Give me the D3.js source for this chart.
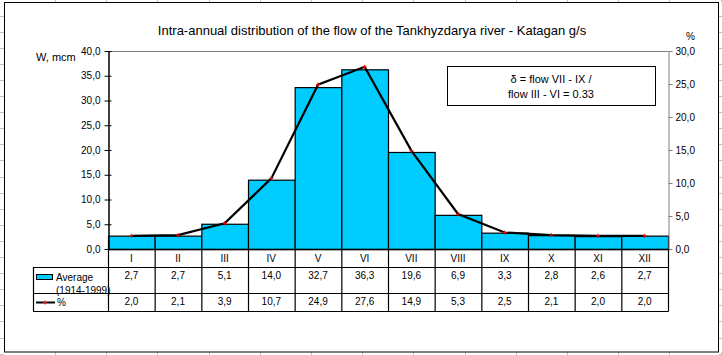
<!DOCTYPE html>
<html><head><meta charset="utf-8">
<script src="https://cdn.jsdelivr.net/npm/d3@7"></script>
<style>html,body{margin:0;padding:0;background:#fff;}svg{display:block;}text{font-family:"Liberation Sans",Arial,sans-serif;fill:#000;}</style>
</head><body>
<script>
const months = ["I","II","III","IV","V","VI","VII","VIII","IX","X","XI","XII"];
const average = [2.7,2.7,5.1,14.0,32.7,36.3,19.6,6.9,3.3,2.8,2.6,2.7];
const percent = [2.0,2.1,3.9,10.7,24.9,27.6,14.9,5.3,2.5,2.1,2.0,2.0];
const leftTicks = [0,5,10,15,20,25,30,35,40];
const rightTicks = [0,5,10,15,20,25,30];
const title = "Intra-annual distribution of the flow of the Tankhyzdarya river - Katagan g/s";
const noteLines = ["δ = flow VII - IX /","flow III - VI = 0.33"];

const W=722,H=355;
const svg=d3.select("body").append("svg").attr("width",W).attr("height",H);
const fmt=v=>v.toFixed(1).replace(".",",");

// spreadsheet grid fragments outside chart
const g0=svg.append("g").attr("stroke","#c0c0c0").attr("stroke-width",1);
d3.range(15.5,355,16.1).forEach(y=>{
  g0.append("line").attr("x1",0).attr("x2",4).attr("y1",Math.round(y)+0.5).attr("y2",Math.round(y)+0.5);
  g0.append("line").attr("x1",719).attr("x2",722).attr("y1",Math.round(y)+0.5).attr("y2",Math.round(y)+0.5);
});
d3.range(55,722,51.2).forEach(x=>{
  g0.append("line").attr("y1",0).attr("y2",2).attr("x1",Math.round(x)+0.5).attr("x2",Math.round(x)+0.5);
  g0.append("line").attr("y1",352).attr("y2",355).attr("x1",Math.round(x)+0.5).attr("x2",Math.round(x)+0.5);
});
// chart border
svg.append("rect").attr("x",4.5).attr("y",2.5).attr("width",714).attr("height",349.5)
  .attr("fill","#fff").attr("stroke","#000");

const x0=108,x1=668,yTop=51,yBot=249;
const x=d3.scaleBand().domain(months).range([x0,x1]).padding(0);
const yL=d3.scaleLinear().domain([0,40]).range([yBot,yTop]);
const yR=d3.scaleLinear().domain([0,30]).range([yBot,yTop]);

// title
svg.append("text").attr("x",372).attr("y",35).attr("text-anchor","middle").attr("font-size",13).text(title);

// plot frame top and right (gray)
svg.append("line").attr("x1",x0).attr("x2",x1).attr("y1",yTop+0.5).attr("y2",yTop+0.5).attr("stroke","#808080");

// bars
svg.append("g").selectAll("rect").data(months).join("rect")
  .attr("x",d=>x(d)+0.5).attr("width",x.bandwidth())
  .attr("y",(d,i)=>yL(average[i])+0.5).attr("height",(d,i)=>yBot-yL(average[i]))
  .attr("fill","#00CCFF").attr("stroke","#000").attr("stroke-width",1.2);

// left axis
const ax=svg.append("g").attr("transform",`translate(${x0+0.5},0)`)
  .call(d3.axisLeft(yL).tickValues(leftTicks).tickFormat(fmt).tickSize(4).tickSizeOuter(0));
ax.select(".domain").attr("stroke","#000").attr("stroke-width",1.5);
ax.selectAll(".tick line").attr("x2",3).attr("x1",-4);
ax.selectAll(".tick text").attr("font-size",10).attr("font-family","Liberation Sans, Arial, sans-serif").attr("x",-8);
svg.append("text").attr("x",36).attr("y",61).attr("font-size",11).text("W, mcm");

// right axis
const ar=svg.append("g").attr("transform",`translate(${x1+0.5},0)`)
  .call(d3.axisRight(yR).tickValues(rightTicks).tickFormat(fmt).tickSize(4).tickSizeOuter(0));
ar.select(".domain").attr("stroke","#808080");
ar.selectAll(".tick line").attr("stroke","#808080");
ar.selectAll(".tick text").attr("font-size",10).attr("font-family","Liberation Sans, Arial, sans-serif").attr("x",7);
svg.append("text").attr("x",686).attr("y",40).attr("font-size",10).text("%");

// x axis line
svg.append("line").attr("x1",x0).attr("x2",x1).attr("y1",yBot+0.5).attr("y2",yBot+0.5).attr("stroke","#000").attr("stroke-width",1.5);

// line series
const cx=d=>x(d)+x.bandwidth()/2;
const line=d3.line().x((d,i)=>cx(months[i])).y(d=>yR(d));
svg.append("path").datum(percent).attr("d",line).attr("fill","none").attr("stroke","#000").attr("stroke-width",2.2);
const mk=svg.append("g").attr("stroke","#ff0000").attr("stroke-width",1);
percent.forEach((v,i)=>{
  const px=cx(months[i]),py=yR(v);
  mk.append("line").attr("x1",px-2).attr("x2",px+2).attr("y1",py).attr("y2",py);
  mk.append("line").attr("x1",px).attr("x2",px).attr("y1",py-2).attr("y2",py+2);
});

// note box
svg.append("rect").attr("x",447.5).attr("y",66.5).attr("width",208).attr("height",39).attr("fill","#fff").attr("stroke","#000");
noteLines.forEach((t,i)=>svg.append("text").attr("x",551).attr("y",83+i*15).attr("text-anchor","middle").attr("font-size",11).text(t));

// data table
const r1=267,r2=293,r3=311,lx=33;
const tg=svg.append("g").attr("stroke","#000").attr("stroke-width",1.2);
[r1,r2,r3].forEach(y=>tg.append("line").attr("x1",lx).attr("x2",x1+0.5).attr("y1",y+0.5).attr("y2",y+0.5));
tg.append("line").attr("x1",lx+0.5).attr("x2",lx+0.5).attr("y1",r1).attr("y2",r3+0.5);
months.forEach(m=>tg.append("line").attr("x1",x(m)+0.5).attr("x2",x(m)+0.5).attr("y1",yBot).attr("y2",r3+0.5));
tg.append("line").attr("x1",x1+0.5).attr("x2",x1+0.5).attr("y1",yBot).attr("y2",r3+0.5);

months.forEach((m,i)=>{
  svg.append("text").attr("x",cx(m)).attr("y",262).attr("text-anchor","middle").attr("font-size",10).text(m);
  svg.append("text").attr("x",cx(m)).attr("y",279).attr("text-anchor","middle").attr("font-size",10).text(fmt(average[i]));
  svg.append("text").attr("x",cx(m)).attr("y",305).attr("text-anchor","middle").attr("font-size",10).text(fmt(percent[i]));
});
// legend
svg.append("rect").attr("x",36.5).attr("y",274.5).attr("width",16).attr("height",5).attr("fill","#00CCFF").attr("stroke","#000");
svg.append("text").attr("x",56).attr("y",281).attr("font-size",10).text("Average");
svg.append("text").attr("x",56).attr("y",294).attr("font-size",10).text("(1914-1999)");
svg.append("line").attr("x1",36).attr("x2",55).attr("y1",302.5).attr("y2",302.5).attr("stroke","#000").attr("stroke-width",2);
svg.append("line").attr("x1",43).attr("x2",47).attr("y1",302.5).attr("y2",302.5).attr("stroke","#f00");
svg.append("line").attr("x1",45).attr("x2",45).attr("y1",300.5).attr("y2",304.5).attr("stroke","#f00");
svg.append("text").attr("x",57).attr("y",306).attr("font-size",10).text("%");
</script>
</body></html>
